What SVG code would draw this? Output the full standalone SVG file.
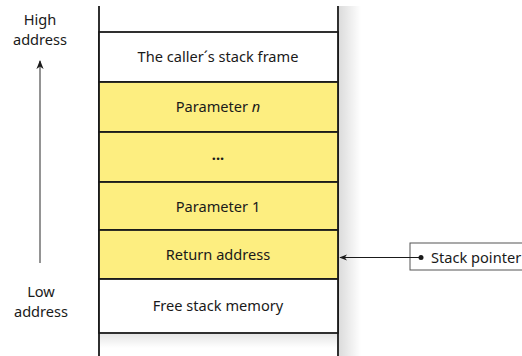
<svg xmlns="http://www.w3.org/2000/svg" width="522" height="356" viewBox="0 0 522 356">
<style>
text{font-family:"Noto Sans","Open Sans","Liberation Sans",sans-serif;font-size:14.6px;fill:#1a1a1a}
.c{text-anchor:middle}
.w{fill:#ffffff;stroke:#1a1a1a;stroke-width:1.8}
.y{fill:#fdee80;stroke:#1a1a1a;stroke-width:1.8}
.edge{stroke:#1a1a1a;stroke-width:1.8;fill:none}
</style>
<defs>
<linearGradient id="sh" x1="0" y1="0" x2="1" y2="0">
<stop offset="0" stop-color="#000" stop-opacity="0.14"/>
<stop offset="1" stop-color="#000" stop-opacity="0"/>
</linearGradient>
<linearGradient id="shb" x1="0" y1="0" x2="0" y2="1">
<stop offset="0" stop-color="#000" stop-opacity="0.1"/>
<stop offset="1" stop-color="#000" stop-opacity="0"/>
</linearGradient>
<marker id="ah" viewBox="0 0 10 10" refX="9" refY="5" markerWidth="8" markerHeight="8" orient="auto" markerUnits="userSpaceOnUse">
<path d="M0,1 L10,5 L0,9 L3,5 Z" fill="#1a1a1a"/>
</marker>
<marker id="ahg" viewBox="0 0 10 10" refX="9" refY="5" markerWidth="9" markerHeight="9" orient="auto" markerUnits="userSpaceOnUse">
<path d="M0,1 L10,5 L0,9 L3,5 Z" fill="#1a1a1a"/>
</marker>
</defs>
<rect x="0" y="0" width="522" height="356" fill="#ffffff"/>
<rect x="339" y="6" width="22" height="350" fill="url(#sh)"/>
<rect x="99" y="334" width="238" height="14" fill="url(#shb)"/>
<g id="frame">
<line class="edge" x1="99" y1="6" x2="99" y2="356"/>
<line class="edge" x1="338" y1="6" x2="338" y2="356"/>
</g>
<g id="caller"><rect class="w" x="99" y="32" width="239" height="50"/><text class="c" x="218" y="62">The caller´s stack frame</text></g>
<g id="paramn"><rect class="y" x="99" y="82" width="239" height="50"/><text class="c" x="218" y="112">Parameter <tspan font-style="italic">n</tspan></text></g>
<g id="dots"><rect class="y" x="99" y="132" width="239" height="50"/><text class="c" x="218" y="160" font-weight="bold">...</text></g>
<g id="param1"><rect class="y" x="99" y="182" width="239" height="48"/><text class="c" x="218" y="212">Parameter 1</text></g>
<g id="ret"><rect class="y" x="99" y="230" width="239" height="49"/><text class="c" x="218" y="260">Return address</text></g>
<g id="free"><rect class="w" x="99" y="279" width="239" height="54"/><text class="c" x="218" y="311">Free stack memory</text></g>
<g id="high"><text class="c" x="40" y="25">High</text><text class="c" x="40" y="45">address</text></g>
<g id="low"><text class="c" x="41" y="297">Low</text><text class="c" x="41" y="317">address</text></g>
<g id="sp"><rect x="410" y="243" width="116" height="27" fill="#ffffff" stroke="#555" stroke-width="1"/><circle cx="421" cy="257.5" r="2.5" fill="#1a1a1a"/><text x="431" y="262.5">Stack pointer</text></g>
<g id="connectors">
<line x1="40" y1="263" x2="40" y2="61" stroke="#707070" stroke-width="1.5" marker-end="url(#ahg)"/>
<line x1="421" y1="257.5" x2="340" y2="257.5" stroke="#1a1a1a" stroke-width="1" marker-end="url(#ah)"/>
</g>
</svg>
